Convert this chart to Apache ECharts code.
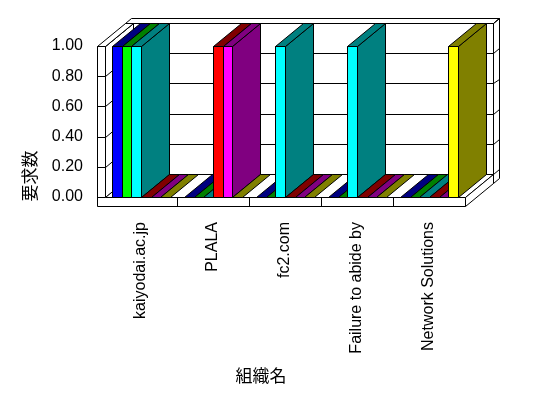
<!DOCTYPE html>
<html>
<head>
<meta charset="utf-8">
<title>要求数</title>
<script src="https://cdn.jsdelivr.net/npm/echarts@6/dist/echarts.min.js"></script>
<style>
  html, body { margin: 0; padding: 0; background: #fff; }
  #chart { width: 548px; height: 398px; }
</style>
</head>
<body>
<div id="chart"></div>
<script>
// data
var categories = ['kaiyodai.ac.jp', 'PLALA', 'fc2.com', 'Failure to abide by', 'Network Solutions'];
var seriesNames = ['系列1', '系列2', '系列3', '系列4', '系列5', '系列6'];
var series1 = [1, 0, 0, 0, 0];
var series2 = [1, 0, 0, 0, 0];
var series3 = [1, 0, 1, 1, 0];
var series4 = [0, 1, 0, 0, 0];
var series5 = [0, 1, 0, 0, 0];
var series6 = [0, 0, 0, 0, 1];
var yTicks = [0, 0.2, 0.4, 0.6, 0.8, 1];

var allSeries = [series1, series2, series3, series4, series5, series6];
var frontColors = ['#0000ff', '#00ff00', '#00ffff', '#ff0000', '#ff00ff', '#ffff00'];
var darkColors = ['#000080', '#008000', '#008080', '#800000', '#800080', '#808000'];

// oblique depth of the 3d box, in px
var DX = 28, DY = 23;
var WALL = 8, FLOOR = 9, BACK = 0.21;
var LINE = { stroke: '#000', lineWidth: 1 };

function px(v) { return Math.round(v) + 0.5; }
function proj(x, y, z) { return [px(x + z * DX), px(y - z * DY)]; }
function poly(points, fill) {
  return { type: 'polygon', shape: { points: points }, style: { fill: fill, stroke: '#000', lineWidth: 1 } };
}
function seg(a, b) {
  return { type: 'line', shape: { x1: a[0], y1: a[1], x2: b[0], y2: b[1] }, style: LINE };
}

function renderFrame(params, api) {
  var band = api.size([1, 0])[0];
  var L = api.coord([0, 0])[0] - band / 2;
  var R = L + band * categories.length;
  var Lo = L - WALL;
  var yb = api.coord([0, 0])[1];
  var yT = api.coord([0, yTicks[yTicks.length - 1]])[1];
  var yf = yb + FLOOR;
  var kids = [];
  // back wall
  kids.push(poly([proj(Lo, yT, 1), proj(R, yT, 1), proj(R, yT, 1 + BACK), proj(Lo, yT, 1 + BACK)], '#fff'));
  kids.push(poly([proj(R, yT, 1), proj(R, yT, 1 + BACK), proj(R, yf, 1 + BACK), proj(R, yf, 1)], '#fff'));
  kids.push(poly([proj(Lo, yT, 1), proj(R, yT, 1), proj(R, yf, 1), proj(Lo, yf, 1)], '#fff'));
  yTicks.forEach(function (v) {
    var y = api.coord([0, v])[1];
    kids.push(seg(proj(L, y, 1), proj(R, y, 1)));
    kids.push(seg(proj(R, y, 1), proj(R, y, 1 + BACK)));
  });
  // left wall
  kids.push(poly([proj(L, yT, 0), proj(L, yT, 1), proj(L, yf, 1), proj(L, yf, 0)], '#fff'));
  yTicks.forEach(function (v) {
    var y = api.coord([0, v])[1];
    kids.push(seg(proj(L, y, 0), proj(L, y, 1)));
  });
  kids.push(poly([proj(Lo, yT, 0), proj(L, yT, 0), proj(L, yT, 1), proj(Lo, yT, 1)], '#fff'));
  // floor
  kids.push(poly([proj(L, yb, 0), proj(R, yb, 0), proj(R, yb, 1), proj(L, yb, 1)], '#fff'));
  kids.push(poly([proj(R, yb, 0), proj(R, yb, 1), proj(R, yf, 1), proj(R, yf, 0)], '#fff'));
  // front faces of wall and floor slab
  kids.push(poly([proj(Lo, yT, 0), proj(L, yT, 0), proj(L, yb, 0), proj(R, yb, 0), proj(R, yf, 0), proj(Lo, yf, 0)], '#fff'));
  yTicks.forEach(function (v) {
    var y = api.coord([0, v])[1];
    kids.push(seg(proj(Lo, y, 0), proj(L, y, 0)));
  });
  for (var i = 1; i < categories.length; i++) {
    kids.push(seg(proj(L + band * i, yb, 0), proj(L + band * i, yf, 0)));
  }
  return { type: 'group', children: kids };
}

function renderBar(slot) {
  return function (params, api) {
    var cat = api.value(0);
    var val = api.value(1);
    var base = api.coord([cat, 0]);
    var top = api.coord([cat, val]);
    var band = api.size([1, 0])[0];
    var w = band / 7.5; // gap width 150%
    var xa = base[0] - band / 2 + 0.75 * w + slot * w;
    var xb = xa + w;
    var yb = base[1], yt = top[1];
    var kids = [];
    var topFace = [proj(xa, yt, 0), proj(xb, yt, 0), proj(xb, yt, 1), proj(xa, yt, 1)];
    if (val > 0) {
      kids.push(poly([proj(xa, yt, 0), proj(xb, yt, 0), proj(xb, yb, 0), proj(xa, yb, 0)], frontColors[slot]));
      kids.push(poly([proj(xb, yt, 0), proj(xb, yt, 1), proj(xb, yb, 1), proj(xb, yb, 0)], darkColors[slot]));
    }
    kids.push(poly(topFace, darkColors[slot]));
    return { type: 'group', children: kids };
  };
}

var chart = echarts.init(document.getElementById('chart'));

var series = [{
  type: 'custom',
  name: 'frame',
  silent: true,
  z: 1,
  data: [[0, 0]],
  renderItem: renderFrame
}];
allSeries.forEach(function (values, k) {
  series.push({
    type: 'custom',
    name: seriesNames[k],
    z: 2,
    encode: { x: 0, y: 1 },
    data: values.map(function (v, i) { return [i, v]; }),
    renderItem: renderBar(k)
  });
});

var option = {
  animation: false,
  backgroundColor: '#fff',
  grid: { left: 105, right: 83, top: 46, bottom: 201 },
  xAxis: {
    type: 'category',
    data: categories,
    axisLine: { show: false },
    axisTick: { show: false },
    splitLine: { show: false },
    axisLabel: {
      rotate: 90,
      margin: 25,
      interval: 0,
      color: '#000',
      fontSize: 16,
      fontFamily: 'Liberation Sans'
    }
  },
  yAxis: {
    type: 'value',
    min: 0,
    max: 1,
    interval: 0.2,
    axisLine: { show: false },
    axisTick: { show: false },
    splitLine: { show: false },
    axisLabel: {
      margin: 22,
      color: '#000',
      fontSize: 16,
      fontFamily: 'Liberation Sans',
      formatter: function (v) { return v.toFixed(2); }
    }
  },
  graphic: [
    {
      type: 'text',
      x: 30, y: 176,
      rotation: Math.PI / 2,
      style: {
        text: '要求数', fill: '#000', align: 'center', verticalAlign: 'middle',
        font: '17px "Noto Sans CJK JP"'
      }
    },
    {
      type: 'text',
      x: 261, y: 376,
      style: {
        text: '組織名', fill: '#000', align: 'center', verticalAlign: 'middle',
        font: '17px "Noto Sans CJK JP"'
      }
    }
  ],
  series: series
};

chart.setOption(option);
</script>
</body>
</html>
